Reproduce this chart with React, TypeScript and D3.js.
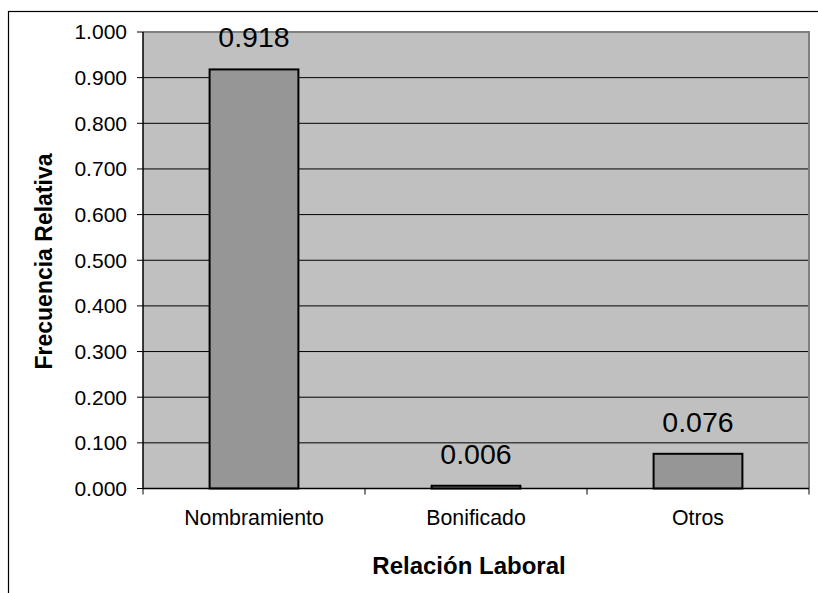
import React from "react";
import * as d3 from "d3";

const categories = ["Nombramiento", "Bonificado", "Otros"];
const values = [0.918, 0.006, 0.076];
const yTicks = [0, 0.1, 0.2, 0.3, 0.4, 0.5, 0.6, 0.7, 0.8, 0.9, 1.0];

const W = 818;
const H = 593;
const plot = { left: 143, right: 809, top: 32, bottom: 488.5 };

export default function App() {
  const x = d3.scaleBand<string>().domain(categories).range([plot.left, plot.right]).padding(0);
  const y = d3.scaleLinear().domain([0, 1]).range([plot.bottom, plot.top]);
  const bw = x.bandwidth() * 0.4;
  const font = "'Liberation Sans', Arial, sans-serif";
  const fmt = d3.format(".3f");

  return (
    <svg
      width={W}
      height={H}
      style={{ position: "absolute", left: 0, top: 0, background: "#fff" }}
      fontFamily={font}
    >
      {/* outer chart border */}
      <rect x={8.5} y={11.5} width={W + 20} height={H + 20} fill="#fff" stroke="#000" strokeWidth={1.2} />
      {/* plot area */}
      <rect x={plot.left} y={plot.top} width={plot.right - plot.left} height={plot.bottom - plot.top} fill="#c0c0c0" />
      {/* gridlines */}
      {yTicks.slice(1).map((t) => (
        <line key={t} x1={plot.left} x2={plot.right} y1={y(t)} y2={y(t)} stroke="#000" strokeWidth={1} />
      ))}
      {/* plot border top/right gray */}
      <path
        d={`M${plot.left},${plot.top} H${plot.right} V${plot.bottom}`}
        fill="none"
        stroke="#808080"
        strokeWidth={2}
      />
      {/* bars */}
      {categories.map((c, i) => {
        const cx = (x(c) as number) + x.bandwidth() / 2;
        return (
          <g key={c}>
            <rect
              x={cx - bw / 2}
              y={y(values[i])}
              width={bw}
              height={y(0) - y(values[i])}
              fill="#969696"
              stroke="#000"
              strokeWidth={2}
            />
            <text x={cx} y={y(values[i]) - 22} textAnchor="middle" fontSize={28.5} fill="#000">
              {fmt(values[i])}
            </text>
            <text x={cx} y={525} textAnchor="middle" fontSize={21.3} fill="#000">
              {c}
            </text>
          </g>
        );
      })}
      {/* y axis */}
      <line x1={plot.left} x2={plot.left} y1={plot.top} y2={plot.bottom} stroke="#000" strokeWidth={1.5} />
      {yTicks.map((t) => (
        <g key={t}>
          <line x1={plot.left - 6} x2={plot.left} y1={y(t)} y2={y(t)} stroke="#000" strokeWidth={1} />
          <text x={127} y={y(t)} dy="0.35em" textAnchor="end" fontSize={21} fill="#000">
            {fmt(t)}
          </text>
        </g>
      ))}
      {/* x axis */}
      <line x1={plot.left} x2={plot.right} y1={plot.bottom} y2={plot.bottom} stroke="#000" strokeWidth={1.5} />
      {[...categories.map((c) => x(c) as number), plot.right].map((tx, i) => (
        <line key={i} x1={tx} x2={tx} y1={plot.bottom} y2={plot.bottom + 6} stroke="#000" strokeWidth={1} />
      ))}
      {/* axis titles */}
      <text x={469} y={574} textAnchor="middle" fontSize={24} fontWeight="bold" fill="#000">
        Relación Laboral
      </text>
      <text
        transform={`translate(52, 261.5) rotate(-90)`}
        textAnchor="middle"
        fontSize={23}
        fontWeight="bold"
        fill="#000"
      >
        Frecuencia Relativa
      </text>
    </svg>
  );
}
